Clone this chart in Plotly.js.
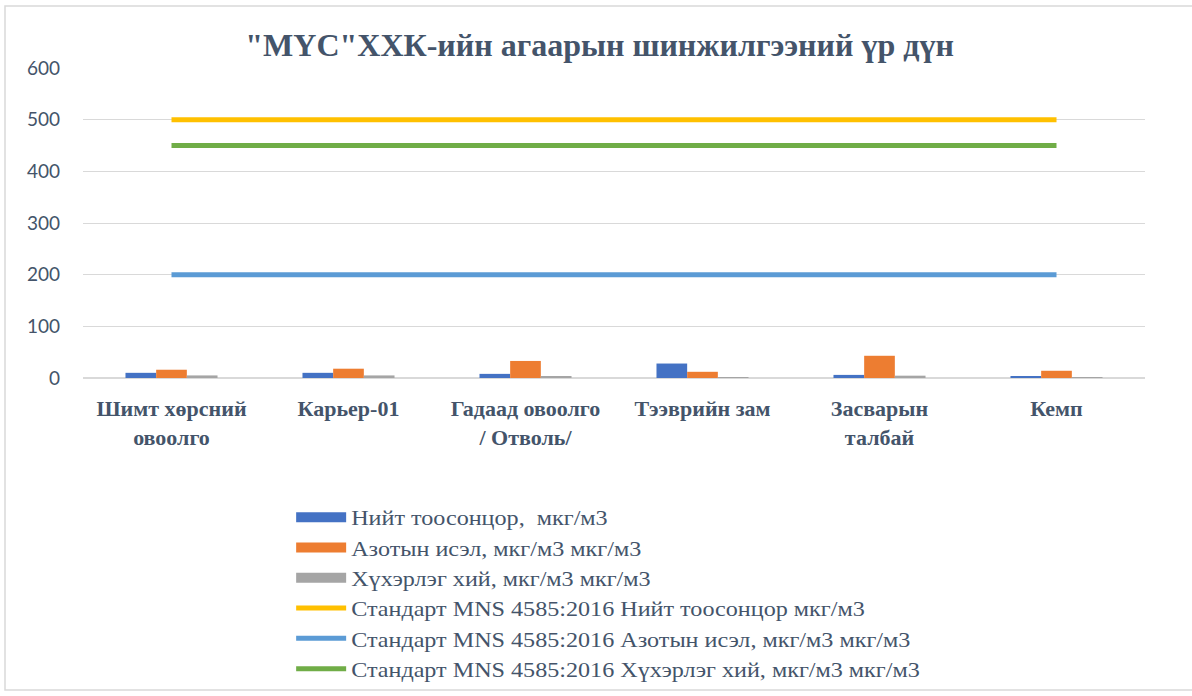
<!DOCTYPE html>
<html>
<head>
<meta charset="utf-8">
<script src="https://cdn.plot.ly/plotly-3.0.1.min.js"></script>
<style>
  body { margin: 0; background: #fff; }
  #chart { width: 1192px; height: 696px; }
  /* the legend text in the original is set wider than plain Times */
  #chart .legendtext { transform: scaleX(1.15); transform-box: fill-box; transform-origin: left center; }
  #chart .legend .scrollbox { clip-path: none !important; }
</style>
</head>
<body>
<div id="chart"></div>
<script>
// sampling locations
const categories = [
    'Шимт хөрсний<br>овоолго',
    'Карьер-01',
    'Гадаад овоолго<br>/ Отволь/',
    'Тээврийн зам',
    'Засварын<br>талбай',
    'Кемп'
];

// measured values
const dust = [10, 10, 8, 28, 6, 2];
const nitrogen = [16, 18, 33, 12, 43, 14];
const sulfur = [5, 5, 2.5, 0.5, 4.5, 0.5];

// standard limits
const stdDust = [500, 500, 500, 500, 500, 500];
const stdNitrogen = [200, 200, 200, 200, 200, 200];
const stdSulfur = [450, 450, 450, 450, 450, 450];

const names = [
    'Нийт тоосонцор,  мкг/м3',
    'Азотын исэл, мкг/м3 мкг/м3',
    'Хүхэрлэг хий, мкг/м3 мкг/м3',
    'Стандарт MNS 4585:2016 Нийт тоосонцор мкг/м3',
    'Стандарт MNS 4585:2016 Азотын исэл, мкг/м3 мкг/м3',
    'Стандарт MNS 4585:2016 Хүхэрлэг хий, мкг/м3 мкг/м3'
];

const barColors = ['#4472C4', '#ED7D31', '#A5A5A5'];
const serif = '"Liberation Serif", "DejaVu Serif", serif';

const traces = [];
[dust, nitrogen, sulfur].forEach(function (vals, i) {
    traces.push({ type: 'bar', x: categories, y: vals, name: names[i],
        legendgroup: 'g' + i, showlegend: false, marker: { color: barColors[i] } });
});
// wide legend swatches for the bars
[0, 1, 2].forEach(function (i) {
    traces.push({ type: 'scatter', mode: 'lines', x: [categories[0]], y: [null],
        name: names[i], legendgroup: 'g' + i, hoverinfo: 'skip',
        line: { color: barColors[i], width: 11 } });
});
traces.push(
    { type: 'scatter', mode: 'lines', x: categories, y: stdDust, name: names[3],
      line: { color: '#FFC000', width: 5 } },
    { type: 'scatter', mode: 'lines', x: categories, y: stdNitrogen, name: names[4],
      line: { color: '#5B9BD5', width: 5 } },
    { type: 'scatter', mode: 'lines', x: categories, y: stdSulfur, name: names[5],
      line: { color: '#70AD47', width: 5 } }
);

// paper spans y 68..691 px; plot area sits in its upper part (68..378)
const paperH = 623;
const yPix = function (py) { return (691 - py) / paperH; };

const layout = {
    width: 1192,
    height: 696,
    margin: { l: 83, r: 47, t: 68, b: 5 },
    paper_bgcolor: '#fff',
    plot_bgcolor: '#fff',
    title: {
        text: '<b>"МҮС"ХХК-ийн агаарын шинжилгээний үр дүн</b>',
        x: 0.503, xanchor: 'center',
        y: 0.935, yanchor: 'middle',
        font: { family: serif, size: 32, color: '#44546A' }
    },
    barmode: 'group',
    bargap: 0.48,
    bargroupgap: 0,
    xaxis: {
        type: 'category',
        showgrid: false,
        showline: false,
        ticks: '',
        tickfont: { family: serif, size: 22, color: '#44546A', weight: 'bold' },
        ticklabelstandoff: 15
    },
    yaxis: {
        domain: [yPix(378), 1],
        range: [0, 600],
        dtick: 100,
        showline: false,
        gridcolor: '#D9D9D9',
        gridwidth: 1,
        zeroline: true,
        zerolinecolor: '#D9D9D9',
        zerolinewidth: 2,
        tickfont: { family: 'Lato, "Open Sans", sans-serif', size: 19, color: '#44546A' },
        ticklabelstandoff: 22
    },
    showlegend: true,
    legend: {
        orientation: 'v',
        x: 0.196, xanchor: 'left',
        y: yPix(497), yanchor: 'top',
        bgcolor: 'rgba(0,0,0,0)',
        font: { family: serif, size: 21, color: '#44546A' },
        tracegroupgap: 0,
        itemwidth: 50,
        traceorder: 'normal'
    },
    shapes: [
        {
            type: 'rect', xref: 'paper', yref: 'paper',
            x0: -78 / 1062, x1: 1140 / 1062,
            y0: yPix(690), y1: yPix(6),
            line: { color: '#D9D9D9', width: 1.5 },
            fillcolor: 'rgba(0,0,0,0)',
            layer: 'below'
        }
    ]
};

Plotly.newPlot('chart', traces, layout, { displayModeBar: false });
</script>
</body>
</html>
